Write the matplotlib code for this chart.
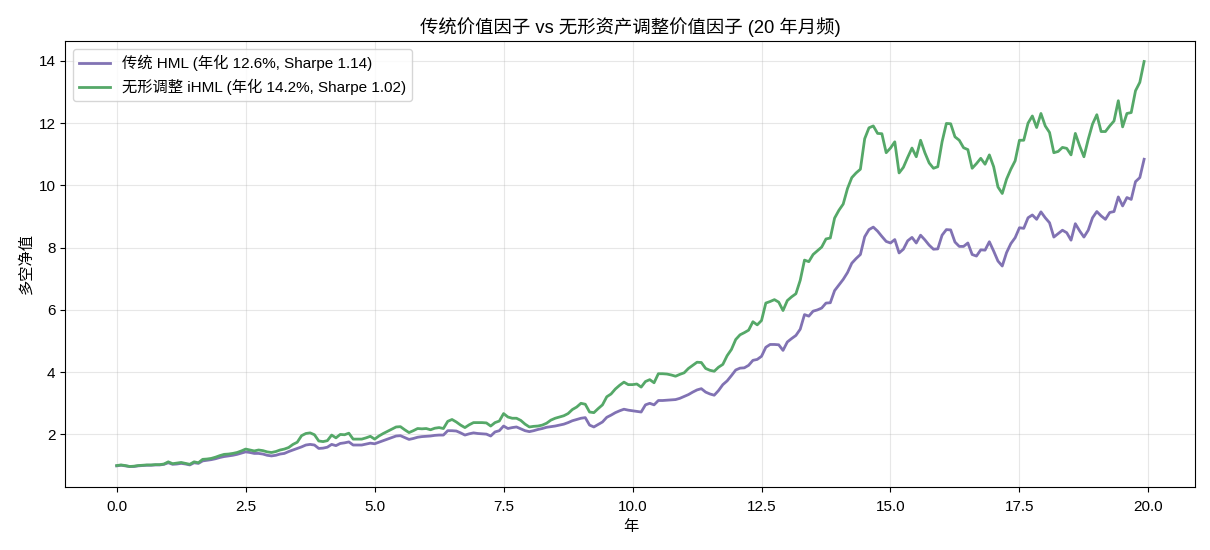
import numpy as np
import matplotlib
matplotlib.use("Agg")
import matplotlib.pyplot as plt

plt.rcParams['font.family'] = ['Liberation Sans', 'Noto Sans CJK SC', 'DejaVu Sans']

# monthly cumulative values, 240 months
hml = [
    0.99, 1.01, 0.99, 0.97, 0.97, 0.99, 1.00, 1.01, 1.01, 1.02, 1.02, 1.04,
    1.09, 1.04, 1.05, 1.07, 1.05, 1.02, 1.09, 1.07, 1.15, 1.17, 1.19, 1.22,
    1.26, 1.29, 1.31, 1.33, 1.36, 1.40, 1.44, 1.42, 1.39, 1.39, 1.37, 1.33,
    1.31, 1.33, 1.37, 1.39, 1.45, 1.50, 1.55, 1.60, 1.66, 1.68, 1.66, 1.55,
    1.56, 1.59, 1.68, 1.64, 1.71, 1.73, 1.76, 1.66, 1.66, 1.66, 1.69, 1.72,
    1.70, 1.75, 1.80, 1.85, 1.90, 1.95, 1.96, 1.90, 1.84, 1.87, 1.91, 1.93,
    1.94, 1.95, 1.97, 1.98, 1.98, 2.12, 2.12, 2.11, 2.05, 1.98, 2.02, 2.05,
    2.03, 2.02, 2.01, 1.95, 2.08, 2.12, 2.27, 2.19, 2.22, 2.24, 2.18, 2.12,
    2.09, 2.12, 2.16, 2.19, 2.23, 2.25, 2.27, 2.30, 2.33, 2.38, 2.44, 2.48,
    2.52, 2.54, 2.30, 2.24, 2.32, 2.40, 2.55, 2.62, 2.70, 2.76, 2.81, 2.78,
    2.76, 2.74, 2.72, 2.95, 3.00, 2.95, 3.09, 3.09, 3.10, 3.11, 3.12, 3.16,
    3.22, 3.28, 3.36, 3.43, 3.47, 3.36, 3.30, 3.26, 3.41, 3.60, 3.72, 3.89,
    4.07, 4.13, 4.14, 4.22, 4.38, 4.41, 4.51, 4.80, 4.89, 4.89, 4.88, 4.70,
    4.97, 5.08, 5.18, 5.38, 5.85, 5.80, 5.96, 6.00, 6.06, 6.22, 6.23, 6.62,
    6.80, 6.98, 7.20, 7.50, 7.65, 7.78, 8.35, 8.58, 8.66, 8.53, 8.36, 8.20,
    8.15, 8.26, 7.83, 7.95, 8.22, 8.33, 8.15, 8.40, 8.25, 8.08, 7.95, 7.96,
    8.40, 8.58, 8.57, 8.18, 8.04, 8.04, 8.15, 7.78, 7.73, 7.93, 7.92, 8.19,
    7.89, 7.57, 7.41, 7.84, 8.13, 8.32, 8.64, 8.62, 8.96, 9.05, 8.91, 9.15,
    8.96, 8.80, 8.34, 8.45, 8.56, 8.48, 8.24, 8.77, 8.54, 8.34, 8.56, 8.96,
    9.16, 9.02, 8.91, 9.13, 9.16, 9.63, 9.34, 9.61, 9.55, 10.12, 10.25, 10.84,
]
ihml = [
    1.00, 1.02, 1.00, 0.97, 0.98, 1.00, 1.01, 1.02, 1.02, 1.03, 1.03, 1.05,
    1.12, 1.06, 1.08, 1.10, 1.07, 1.04, 1.12, 1.09, 1.20, 1.21, 1.23, 1.27,
    1.32, 1.36, 1.37, 1.39, 1.42, 1.47, 1.53, 1.50, 1.47, 1.50, 1.48, 1.44,
    1.42, 1.45, 1.50, 1.53, 1.58, 1.68, 1.75, 1.96, 2.03, 2.05, 1.99, 1.79,
    1.77, 1.80, 1.98, 1.89, 2.00, 1.99, 2.04, 1.85, 1.85, 1.85, 1.89, 1.94,
    1.85, 1.95, 2.03, 2.10, 2.17, 2.24, 2.25, 2.15, 2.06, 2.12, 2.19, 2.18,
    2.19, 2.15, 2.20, 2.22, 2.19, 2.42, 2.48, 2.40, 2.30, 2.22, 2.31, 2.38,
    2.38, 2.38, 2.37, 2.27, 2.38, 2.43, 2.67, 2.56, 2.52, 2.52, 2.45, 2.33,
    2.24, 2.26, 2.27, 2.30, 2.36, 2.46, 2.52, 2.56, 2.60, 2.67, 2.80, 2.88,
    3.00, 2.97, 2.72, 2.70, 2.83, 2.95, 3.21, 3.30, 3.46, 3.58, 3.68, 3.60,
    3.60, 3.62, 3.52, 3.70, 3.76, 3.66, 3.95, 3.95, 3.94, 3.91, 3.87, 3.93,
    3.98, 4.12, 4.22, 4.32, 4.31, 4.12, 4.06, 4.03, 4.16, 4.25, 4.53, 4.73,
    5.05, 5.20, 5.27, 5.35, 5.62, 5.52, 5.66, 6.22, 6.27, 6.33, 6.25, 5.98,
    6.30, 6.42, 6.52, 6.95, 7.60, 7.55, 7.78, 7.90, 8.02, 8.28, 8.31, 8.95,
    9.20, 9.40, 9.90, 10.25, 10.40, 10.52, 11.50, 11.85, 11.91, 11.67, 11.66, 11.05,
    11.20, 11.40, 10.40, 10.58, 10.90, 11.20, 10.92, 11.45, 11.05, 10.72, 10.55, 10.60,
    11.40, 11.99, 11.98, 11.56, 11.45, 11.21, 11.15, 10.55, 10.70, 10.87, 10.68, 10.98,
    10.60, 9.95, 9.74, 10.20, 10.52, 10.79, 11.45, 11.45, 12.00, 12.23, 11.86, 12.31,
    11.91, 11.70, 11.05, 11.09, 11.22, 11.19, 10.98, 11.67, 11.27, 10.92, 11.48, 11.97,
    12.27, 11.73, 11.73, 11.91, 12.07, 12.72, 11.88, 12.31, 12.34, 13.04, 13.31, 13.98,
]
years = np.arange(len(hml)) / 12

fig, ax = plt.subplots(figsize=(12.1, 5.5), dpi=100)
fig.subplots_adjust(left=0.054, right=0.988, top=0.925, bottom=0.115)

ax.plot(years, hml, color='#8172b3', lw=2, label='传统 HML (年化 12.6%, Sharpe 1.14)')
ax.plot(years, ihml, color='#55a868', lw=2, label='无形调整 iHML (年化 14.2%, Sharpe 1.02)')

ax.set_title('传统价值因子 vs 无形资产调整价值因子 (20 年月频)', fontsize=13.2)
ax.set_xlabel('年', fontsize=11)
ax.set_ylabel('多空净值', fontsize=11)
ax.tick_params(labelsize=11)
ax.tick_params(axis='x', pad=6)
ax.grid(True, alpha=0.3)
ax.legend(loc='upper left', fontsize=11)

fig.savefig('out.png', dpi=100)
